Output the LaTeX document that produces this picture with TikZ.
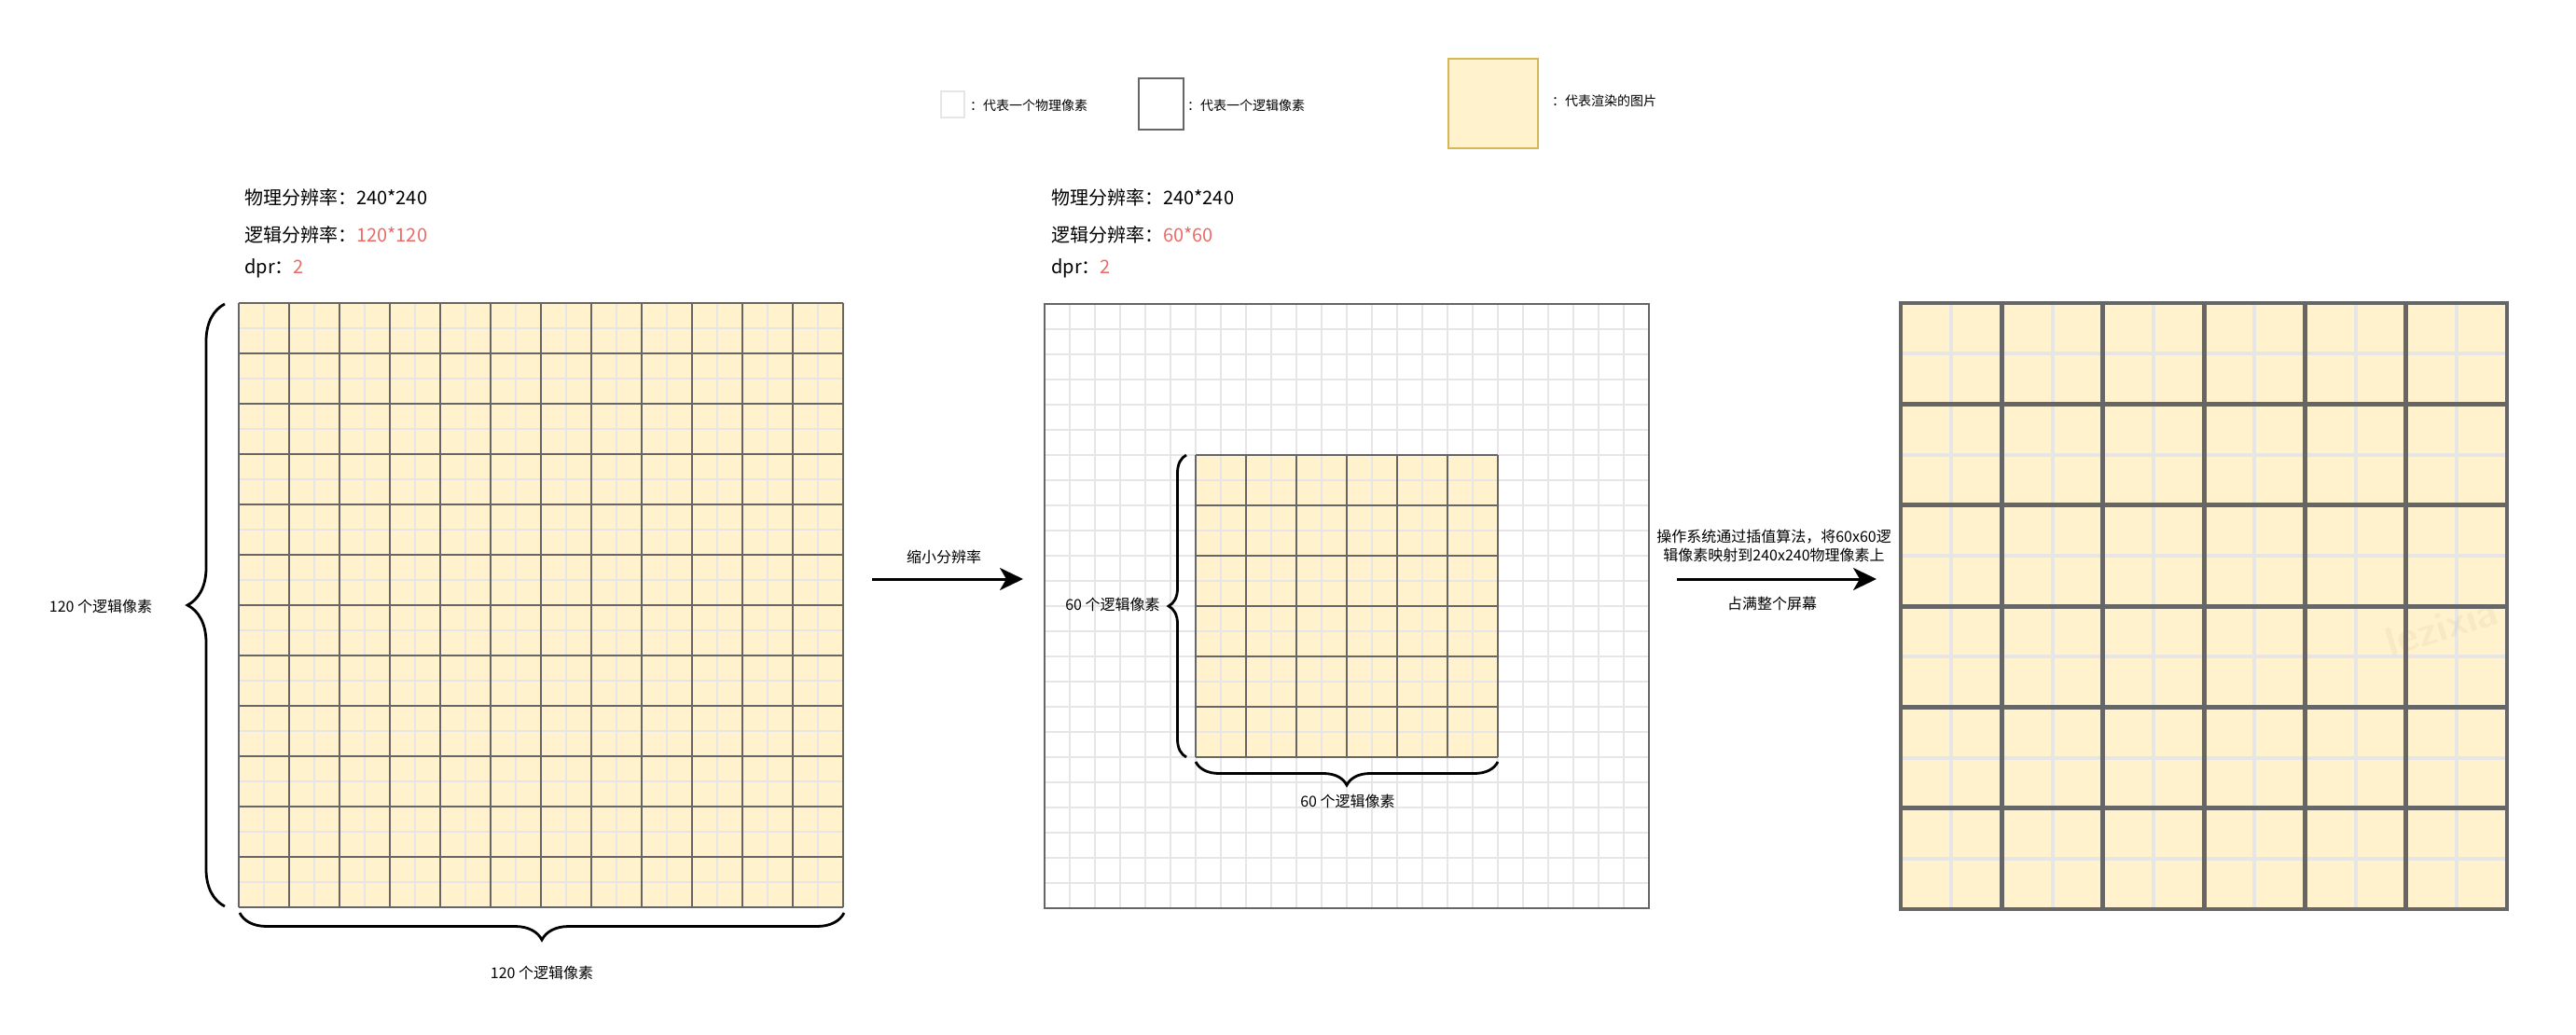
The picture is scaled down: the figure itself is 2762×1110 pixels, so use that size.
\documentclass[tikz,border=0pt]{standalone}
\usepackage{fontspec}
\newfontfamily\cjk{Noto Sans CJK SC}
\usetikzlibrary{arrows.meta,decorations.pathreplacing}
\definecolor{imgfill}{HTML}{FFF2CC}
\definecolor{imgline}{HTML}{D6B656}
\definecolor{physc}{HTML}{E6E6E6}
\definecolor{logc}{HTML}{666666}
\definecolor{redc}{HTML}{EA6B66}
\begin{document}
\begin{tikzpicture}[x=1pt,y=-1pt,
  tbig/.style={inner sep=0pt, anchor=west, font=\cjk\fontsize{20}{24}\selectfont},
  tlbl/.style={inner sep=0pt, align=center, font=\cjk\fontsize{16}{20}\selectfont},
  tleg/.style={inner sep=0pt, anchor=west, font=\cjk\fontsize{14}{17}\selectfont},
  gridbox/.style={draw=none, inner sep=0pt, anchor=north west},
  phys/.style={draw=physc, line width=2pt},
  physthick/.style={draw=physc, line width=4pt},
  logi/.style={draw=logc, line width=2.8pt},
  logithick/.style={draw=logc, line width=5pt},
  bracestyle/.style={draw=black, line width=2.8pt, decorate},
  arr/.style={line width=3pt, -{Stealth[length=25pt,width=24pt,inset=7pt]}},
  physleg/.style={draw=physc, line width=2pt, fill=white, inner sep=0pt},
  logleg/.style={draw=logc, line width=2.5pt, fill=white, inner sep=0pt},
  imgleg/.style={draw=imgline, line width=2.5pt, fill=imgfill, inner sep=0pt},
]
\useasboundingbox (0,0) rectangle (2762,1110);

% ---------- legend ----------
\node[physleg, minimum width=25, minimum height=28] (legp) at (1021.5,112) {};
\node[tleg] (legpt) at (1040,113) {：代表一个物理像素};
\node[logleg, minimum width=48, minimum height=55] (legl) at (1245,111.5) {};
\node[tleg] (leglt) at (1273,113) {：代表一个逻辑像素};
\node[imgleg, minimum width=96, minimum height=96] (legi) at (1601,111) {};
\node[tleg] (legit) at (1664,108) {：代表渲染的图片};

% ---------- info texts ----------
\node[tbig] (l1) at (262,212) {物理分辨率：240*240};
\node[tbig] (l2) at (262,252) {逻辑分辨率：\textcolor{redc}{120*120}};
\node[tbig] (l3) at (262,288) {dpr：\textcolor{redc}{2}};
\node[tbig] (m1) at (1127,212) {物理分辨率：240*240};
\node[tbig] (m2) at (1127,252) {逻辑分辨率：\textcolor{redc}{60*60}};
\node[tbig] (m3) at (1127,288) {dpr：\textcolor{redc}{2}};

% ---------- left grid ----------
\node[gridbox, minimum width=648, minimum height=648] (g1) at (256,325) {};
\fill[imgfill] (256,325) rectangle (904,973);
\foreach \i in {1,3,...,23} {
  \draw[phys] (256+27*\i,325) -- ++(0,648);
  \draw[phys] (256,325+27*\i) -- ++(648,0);
}
\foreach \i in {0,...,12} {
  \draw[logi] (256+54*\i,325) -- ++(0,648);
  \draw[logi] (256,325+54*\i) -- ++(648,0);
}

% left braces
\draw[bracestyle, decoration={brace, amplitude=40pt}] (241,972) -- (241,326);
\node[tlbl] (lb1) at (108,650) {120 个逻辑像素};
\draw[bracestyle, decoration={brace, amplitude=29pt}] (905,979) -- (257,979);
\node[tlbl] (lb2) at (581,1043) {120 个逻辑像素};

% ---------- middle grid ----------
\node[gridbox, minimum width=648, minimum height=648] (g2) at (1120,326) {};
\fill[white] (1120,326) rectangle (1768,974);
\foreach \i in {1,...,23} {
  \draw[phys] (1120+27*\i,326) -- ++(0,648);
  \draw[phys] (1120,326+27*\i) -- ++(648,0);
}
\draw[logc, line width=2.5pt] (1120,326) rectangle (1768,974);
\node[gridbox, minimum width=324, minimum height=324] (g2in) at (1282,488) {};
\fill[imgfill] (1282,488) rectangle (1606,812);
\foreach \i in {1,3,...,11} {
  \draw[phys] (1282+27*\i,488) -- ++(0,324);
  \draw[phys] (1282,488+27*\i) -- ++(324,0);
}
\foreach \i in {0,...,6} {
  \draw[logi] (1282+54*\i,488) -- ++(0,324);
  \draw[logi] (1282,488+54*\i) -- ++(324,0);
}
\draw[bracestyle, decoration={brace, amplitude=19pt}] (1272,812) -- (1272,488);
\node[tlbl] (mb1) at (1193,648) {60 个逻辑像素};
\draw[bracestyle, decoration={brace, amplitude=25pt}] (1606,817) -- (1282,817);
\node[tlbl] (mb2) at (1445,859) {60 个逻辑像素};

% ---------- right grid ----------
\node[gridbox, minimum width=650, minimum height=650] (g3) at (2038,325) {};
\fill[imgfill] (2038,325) rectangle (2688,975);
\foreach \i in {1,3,...,11} {
  \draw[physthick] (2038+54.1667*\i,325) -- ++(0,650);
  \draw[physthick] (2038,325+54.1667*\i) -- ++(650,0);
}
\node[rotate=17, text=black, opacity=0.035, font=\fontsize{44}{44}\selectfont\sffamily\bfseries, inner sep=0pt] (wm) at (2618,672) {lezixia};
\foreach \i in {1,...,5} {
  \draw[logithick] (2038+108.333*\i,325) -- ++(0,650);
  \draw[logithick] (2038,325+108.333*\i) -- ++(650,0);
}
\draw[logc, line width=4pt] (2038,325) rectangle (2688,975);

% ---------- arrows ----------
\coordinate (a1s) at (935,621);
\coordinate (a1e) at (1097,621);
\draw[arr] (a1s) -- (a1e);
\node[tlbl] (a1t) at (1012,597) {缩小分辨率};

\coordinate (a2s) at (1798,621);
\coordinate (a2e) at (2012,621);
\draw[arr] (a2s) -- (a2e);
\node[tlbl] (a2t) at (1902,585) {操作系统通过插值算法，将60x60逻\\辑像素映射到240x240物理像素上};
\node[tlbl] (a2b) at (1900,647) {占满整个屏幕};
\end{tikzpicture}
\end{document}
